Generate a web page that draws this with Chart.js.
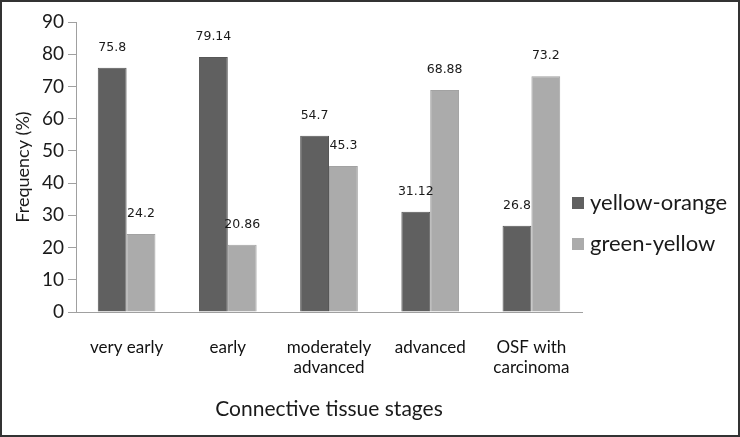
<!DOCTYPE html>
<html>
<head>
<meta charset="utf-8">
<script src="https://cdn.jsdelivr.net/npm/chart.js@4.4.0/dist/chart.umd.min.js"></script>
<style>
  body { margin: 0; background: #fff; }
  #wrap { width: 740px; height: 437px; position: relative; }
</style>
</head>
<body>
<div id="wrap"><canvas id="myChart" width="740" height="437"></canvas></div>
<script>
// chart data
const stages = ["very early", "early", ["moderately", "advanced"], "advanced", ["OSF with", "carcinoma"]];
const yellowOrange = [75.8, 79.14, 54.7, 31.12, 26.8];
const greenYellow = [24.2, 20.86, 45.3, 68.88, 73.2];
const seriesNames = ["yellow-orange", "green-yellow"];

const darkGray = "#606060";
const lightGray = "#ababab";

// value labels above every bar
const barLabels = {
  id: "barLabels",
  afterDatasetsDraw(chart) {
    const c = chart.ctx;
    c.save();
    c.font = "12.5px 'DejaVu Sans'";
    c.fillStyle = "#1a1a1a";
    c.textAlign = "center";
    c.textBaseline = "middle";
    chart.data.datasets.forEach((ds, i) => {
      chart.getDatasetMeta(i).data.forEach((bar, j) => {
        c.fillText(String(ds.data[j]), bar.x, bar.y - 20);
      });
    });
    c.restore();
  }
};

// legend on the right + outer frame
const sideLegend = {
  id: "sideLegend",
  afterDraw(chart) {
    const c = chart.ctx;
    const x = chart.chartArea.right - 10;
    const rows = [203, 244];
    c.save();
    c.font = "22px Lato";
    c.textBaseline = "middle";
    chart.data.datasets.forEach((ds, i) => {
      c.fillStyle = ds.backgroundColor;
      c.fillRect(x, rows[i] - 6, 12, 12);
      c.fillStyle = "#1a1a1a";
      c.fillText(ds.label, x + 18, rows[i]);
    });
    c.strokeStyle = "#333";
    c.lineWidth = 2;
    c.strokeRect(1, 1, chart.width - 2, chart.height - 2);
    c.restore();
  }
};

const ctx = document.getElementById("myChart").getContext("2d");

new Chart(ctx, {
  type: "bar",
  data: {
    labels: stages,
    datasets: [
      {
        label: seriesNames[0],
        data: yellowOrange,
        backgroundColor: darkGray,
        borderColor: "#575757",
        borderWidth: 1,
      },
      {
        label: seriesNames[1],
        data: greenYellow,
        backgroundColor: lightGray,
        borderColor: "#a2a2a2",
        borderWidth: 1,
      },
    ],
  },
  options: {
    responsive: false,
    animation: false,
    layout: { padding: { left: 0, right: 158, top: 22, bottom: 0 } },
    datasets: { bar: { categoryPercentage: 0.57, barPercentage: 1 } },
    plugins: {
      legend: { display: false },
      tooltip: { enabled: false },
    },
    scales: {
      x: {
        grid: { display: false, drawTicks: false },
        border: { color: "#a0a0a0" },
        ticks: {
          color: "#111",
          font: { family: "Lato", size: 17, lineHeight: 1.2 },
          padding: 25,
          maxRotation: 0,
        },
        title: {
          display: true,
          text: "Connective tissue stages",
          color: "#1a1a1a",
          font: { family: "Lato", size: 21 },
          padding: { top: 0, bottom: 15 },
        },
        afterFit(scale) { scale.height = 125; },
      },
      y: {
        min: 0,
        max: 90,
        ticks: {
          stepSize: 10,
          color: "#1a1a1a",
          font: { family: "Lato", size: 19 },
          padding: 4,
        },
        grid: { drawOnChartArea: false, tickLength: 8, color: "#a0a0a0" },
        border: { color: "#a0a0a0" },
        title: {
          display: true,
          text: "Frequency (%)",
          color: "#1a1a1a",
          font: { family: "Lato", size: 18 },
          padding: { top: 12, bottom: 0 },
        },
        afterFit(scale) { scale.width = 76; },
      },
    },
  },
  plugins: [barLabels, sideLegend],
});
</script>
</body>
</html>
